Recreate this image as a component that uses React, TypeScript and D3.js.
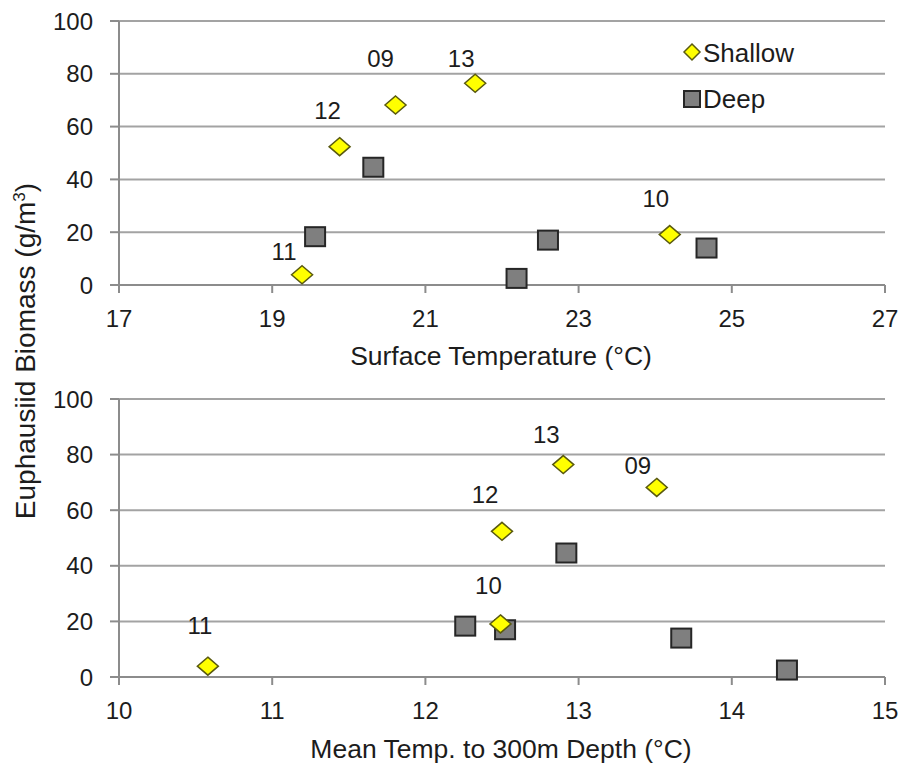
import React, { useEffect, useRef } from "react";
import * as d3 from "d3";

// survey years (shallow points are labelled)
const years = ["09", "10", "11", "12", "13"];
const shallowBiomass = [68.2, 19.1, 3.9, 52.4, 76.4];
const shallowSurfaceTemp = [20.61, 24.19, 19.39, 19.88, 21.65];
const shallowDepthTemp = [13.51, 12.49, 10.58, 12.5, 12.9];

const deepBiomass = [18.3, 44.6, 2.5, 17.0, 14.0];
const deepSurfaceTemp = [19.56, 20.32, 22.19, 22.6, 24.67];
const deepDepthTemp = [12.26, 12.92, 14.36, 12.52, 13.67];

const surfaceTicks = [17, 19, 21, 23, 25, 27];
const depthTicks = [10, 11, 12, 13, 14, 15];
const biomassTicks = [0, 20, 40, 60, 80, 100];

// label nudges (px) as placed in the original chart
const surfaceLabelNudge = {
  "09": [-15, -38], "10": [-14, -28], "11": [-18, -15], "12": [-12, -28], "13": [-14, -16]
};
const depthLabelNudge = {
  "09": [-19, -13], "10": [-12, -30], "11": [-8, -32], "12": [-17, -28], "13": [-17, -22]
};

const FONT = "'Liberation Sans', Arial, sans-serif";
const TXT = "#1c1c1c";

const diamond = (w, h) => `M0,${-h / 2}L${w / 2},0L0,${h / 2}L${-w / 2},0Z`;

const App = () => {
  const ref = useRef(null);

  useEffect(() => {
    const svg = d3.select(ref.current);
    svg.selectAll("*").remove();

    const panels = [
      {
        top: 21, bottom: 285, domain: [17, 27], ticks: surfaceTicks,
        shallowX: shallowSurfaceTemp, deepX: deepSurfaceTemp,
        nudge: surfaceLabelNudge, title: "Surface Temperature (°C)", titleY: 365, legend: true
      },
      {
        top: 399, bottom: 677, domain: [10, 15], ticks: depthTicks,
        shallowX: shallowDepthTemp, deepX: deepDepthTemp,
        nudge: depthLabelNudge, title: "Mean Temp. to 300m Depth (°C)", titleY: 758, legend: false
      }
    ];

    const left = 119, right = 885;

    panels.forEach(p => {
      const x = d3.scaleLinear().domain(p.domain).range([left, right]);
      const y = d3.scaleLinear().domain([0, 100]).range([p.bottom, p.top]);
      const g = svg.append("g");

      // gridlines
      g.selectAll("line.grid")
        .data(biomassTicks.filter(d => d > 0))
        .join("line")
        .attr("x1", left).attr("x2", right)
        .attr("y1", d => y(d)).attr("y2", d => y(d))
        .attr("stroke", "#a3a3a3").attr("stroke-width", 2);

      // y axis
      g.append("line")
        .attr("x1", left).attr("x2", left)
        .attr("y1", p.top).attr("y2", p.bottom)
        .attr("stroke", "#8c8c8c").attr("stroke-width", 2);
      g.selectAll("line.ytick")
        .data(biomassTicks)
        .join("line")
        .attr("x1", left - 9).attr("x2", left)
        .attr("y1", d => y(d)).attr("y2", d => y(d))
        .attr("stroke", "#8c8c8c").attr("stroke-width", 2);
      g.selectAll("text.ylab")
        .data(biomassTicks)
        .join("text")
        .attr("x", 93).attr("y", d => y(d)).attr("dy", "0.36em")
        .attr("text-anchor", "end")
        .style("font", `24px ${FONT}`).attr("fill", TXT)
        .text(d => d);

      // x axis
      g.append("line")
        .attr("x1", left).attr("x2", right)
        .attr("y1", p.bottom).attr("y2", p.bottom)
        .attr("stroke", "#8c8c8c").attr("stroke-width", 2);
      g.selectAll("line.xtick")
        .data(p.ticks)
        .join("line")
        .attr("x1", d => x(d)).attr("x2", d => x(d))
        .attr("y1", p.bottom).attr("y2", p.bottom + 8)
        .attr("stroke", "#8c8c8c").attr("stroke-width", 2);
      g.selectAll("text.xlab")
        .data(p.ticks)
        .join("text")
        .attr("x", d => x(d)).attr("y", p.bottom + 42)
        .attr("text-anchor", "middle")
        .style("font", `24px ${FONT}`).attr("fill", TXT)
        .text(d => d);

      g.append("text")
        .attr("x", (left + right) / 2 - 1).attr("y", p.titleY)
        .attr("text-anchor", "middle")
        .style("font", `26.5px ${FONT}`).attr("fill", TXT)
        .text(p.title);

      // deep squares
      g.selectAll("rect.deep")
        .data(deepBiomass)
        .join("rect")
        .attr("x", (d, i) => x(p.deepX[i]) - 10)
        .attr("y", d => y(d) - 9.5)
        .attr("width", 20).attr("height", 19)
        .attr("fill", "#7f7f7f").attr("stroke", "#262626").attr("stroke-width", 2);

      // shallow diamonds
      g.selectAll("path.shallow")
        .data(shallowBiomass)
        .join("path")
        .attr("transform", (d, i) => `translate(${x(p.shallowX[i])},${y(d)})`)
        .attr("d", diamond(21, 18))
        .attr("fill", "#ffff00").attr("stroke", "#5a5a10").attr("stroke-width", 1.5);

      g.selectAll("text.yr")
        .data(years)
        .join("text")
        .attr("x", (d, i) => x(p.shallowX[i]) + p.nudge[d][0])
        .attr("y", (d, i) => y(shallowBiomass[i]) + p.nudge[d][1])
        .attr("text-anchor", "middle")
        .style("font", `24px ${FONT}`).attr("fill", TXT)
        .text(d => d);

      if (p.legend) {
        const lg = g.append("g").attr("transform", "translate(692,0)");
        lg.append("path")
          .attr("transform", "translate(0,52)")
          .attr("d", diamond(16, 16))
          .attr("fill", "#ffff00").attr("stroke", "#5a5a10").attr("stroke-width", 1.5);
        lg.append("text").attr("x", 11).attr("y", 62)
          .style("font", `26px ${FONT}`).attr("fill", TXT).text("Shallow");
        lg.append("rect")
          .attr("x", -8).attr("y", 91).attr("width", 16).attr("height", 16)
          .attr("fill", "#7f7f7f").attr("stroke", "#262626").attr("stroke-width", 2);
        lg.append("text").attr("x", 11).attr("y", 108)
          .style("font", `26px ${FONT}`).attr("fill", TXT).text("Deep");
      }
    });

    // shared y title
    const yt = svg.append("text")
      .attr("transform", "translate(35,351) rotate(-90)")
      .attr("text-anchor", "middle")
      .style("font", `28px ${FONT}`).attr("fill", TXT);
    yt.append("tspan").text("Euphausiid Biomass (g/m");
    yt.append("tspan").attr("dy", -10).style("font-size", "17px").text("3");
    yt.append("tspan").attr("dy", 10).text(")");
  }, []);

  return (
    <svg ref={ref} width={902} height={765}
      style={{ position: "absolute", left: 0, top: 0, background: "white" }} />
  );
};

export default App;
